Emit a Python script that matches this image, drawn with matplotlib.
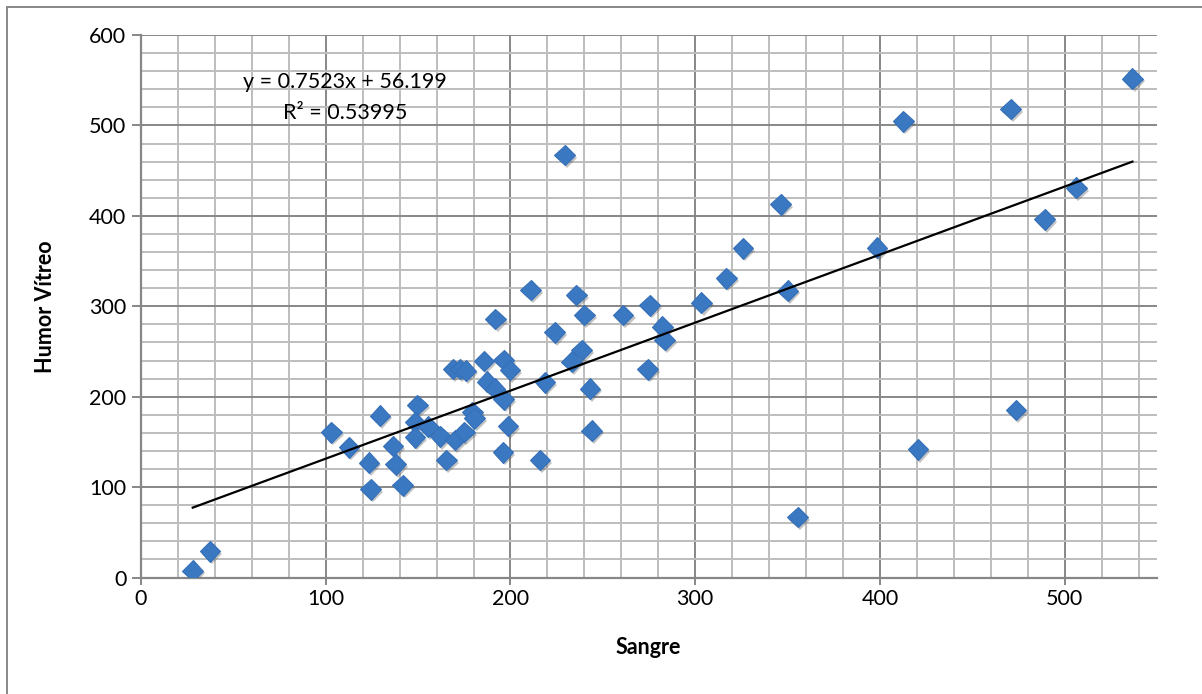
import matplotlib
matplotlib.use("Agg")
import matplotlib.pyplot as plt
import matplotlib.patheffects as pe
from matplotlib.lines import Line2D
from matplotlib.ticker import MultipleLocator
import numpy as np

plt.rcParams['font.family'] = ['Lato', 'DejaVu Sans']

# Blood (Sangre) vs. vitreous humour (Humor Vítreo) measurements
sangre = [28, 37.3, 103, 112.5, 129.3, 123.4, 124.3, 136.4, 137.8, 141.7,
          149.6, 148.3, 148.3, 155.5, 162, 165.3, 169.9, 175, 179.3, 180.5,
          168.9, 172.6, 175.9, 185.6, 187.4, 191.6, 196.4, 199.7, 196.4, 198.7,
          195.9, 191.9, 216, 218.6, 224, 240, 261, 275.4, 303.4, 238.5,
          233.1, 243, 243.9, 274.2, 282.3, 283.5, 355.5, 350, 229.4, 346.3,
          325.9, 316.9, 235.7, 210.9, 536.7, 470.8, 412.7, 506.3, 489.2, 398.4,
          473.7, 420.6]
humor_vitreo = [7.5, 29, 160.6, 144, 179, 127, 97.5, 145.5, 125, 102,
                190.8, 172, 155, 167, 156, 130, 152, 161, 183, 176,
                230.6, 230.6, 228.8, 239.5, 216.6, 209, 240.6, 229.5, 197, 167.6,
                138.5, 286, 130, 216, 271, 290.5, 290.5, 301, 304, 251.7,
                238.7, 209, 162.4, 230.3, 277.4, 262.7, 67, 317.3, 467.4, 412.8,
                364.2, 331, 312.5, 318, 551.7, 518.1, 504.6, 431, 396, 364.7,
                185.4, 141.6]

# Linear trendline reported on the chart
slope = 0.7523
intercept = 56.199
r_squared = 0.53995

W, H = 1202, 694
fig = plt.figure(figsize=(W / 100, H / 100), dpi=100)
ax = fig.add_axes([141 / W, (H - 577.5) / H, (1157 - 141) / W, (577.5 - 35) / H])

ax.set_xlim(0, 550)
ax.set_ylim(0, 600)
ax.xaxis.set_major_locator(MultipleLocator(100))
ax.xaxis.set_minor_locator(MultipleLocator(20))
ax.yaxis.set_major_locator(MultipleLocator(100))
ax.yaxis.set_minor_locator(MultipleLocator(20))

ax.grid(which='major', color='#878787', linewidth=1.4, zorder=0)
ax.grid(which='minor', color='#bdbdbd', linewidth=1.4, zorder=0)
ax.set_axisbelow(True)

for side in ('right', 'top'):
    ax.spines[side].set_visible(False)
for side in ('left', 'bottom'):
    ax.spines[side].set_color('#878787')
    ax.spines[side].set_linewidth(1.6)

ax.tick_params(which='major', axis='x', length=5, width=1.4, color='#878787',
               labelsize=15.5, pad=3, labelcolor='black')
ax.tick_params(which='major', axis='y', length=6.5, width=1.4, color='#878787',
               labelsize=15.5, pad=4, labelcolor='black')
ax.tick_params(which='minor', length=0)

# scatter points with a soft drop shadow
ax.plot(sangre, humor_vitreo, linestyle='none', marker='D', markersize=10.5,
        markerfacecolor='#3b78c2', markeredgecolor='#3570b8', markeredgewidth=0.8,
        zorder=3,
        path_effects=[pe.SimplePatchShadow(offset=(1.5, -2), shadow_rgbFace='#555555', alpha=0.35),
                      pe.Normal()])

# trendline across the data range
xs = np.array([min(sangre), max(sangre)])
ax.plot(xs, slope * xs + intercept, color='black', linewidth=1.6, zorder=4)

ax.text(110.4, 548, f"y = {slope}x + {intercept}", ha='center', va='center',
        fontsize=15.5, zorder=5)
ax.text(110.4, 514, f"R² = {r_squared}", ha='center', va='center',
        fontsize=15.5, zorder=5)

ax.set_xlabel('Sangre', fontsize=15.5, fontweight='bold')
ax.set_ylabel('Humor Vítreo', fontsize=15.5, fontweight='bold')
ax.xaxis.label.set_va('center')
ax.yaxis.label.set_va('center')
ax.xaxis.set_label_coords((648 - 141) / 1016, -(648 - 577.5) / 542.5)
ax.yaxis.set_label_coords((45 - 141) / 1016, (577.5 - 307) / 542.5)

# chart-area frame (left and top edges)
fig.add_artist(Line2D([6.5 / W, 6.5 / W], [0, 1 - 6.5 / H], transform=fig.transFigure,
                      color='#888888', linewidth=1.4))
fig.add_artist(Line2D([6.5 / W, 1], [1 - 6.5 / H, 1 - 6.5 / H], transform=fig.transFigure,
                      color='#888888', linewidth=1.4))

fig.savefig('out.png', dpi=100, facecolor='white')
